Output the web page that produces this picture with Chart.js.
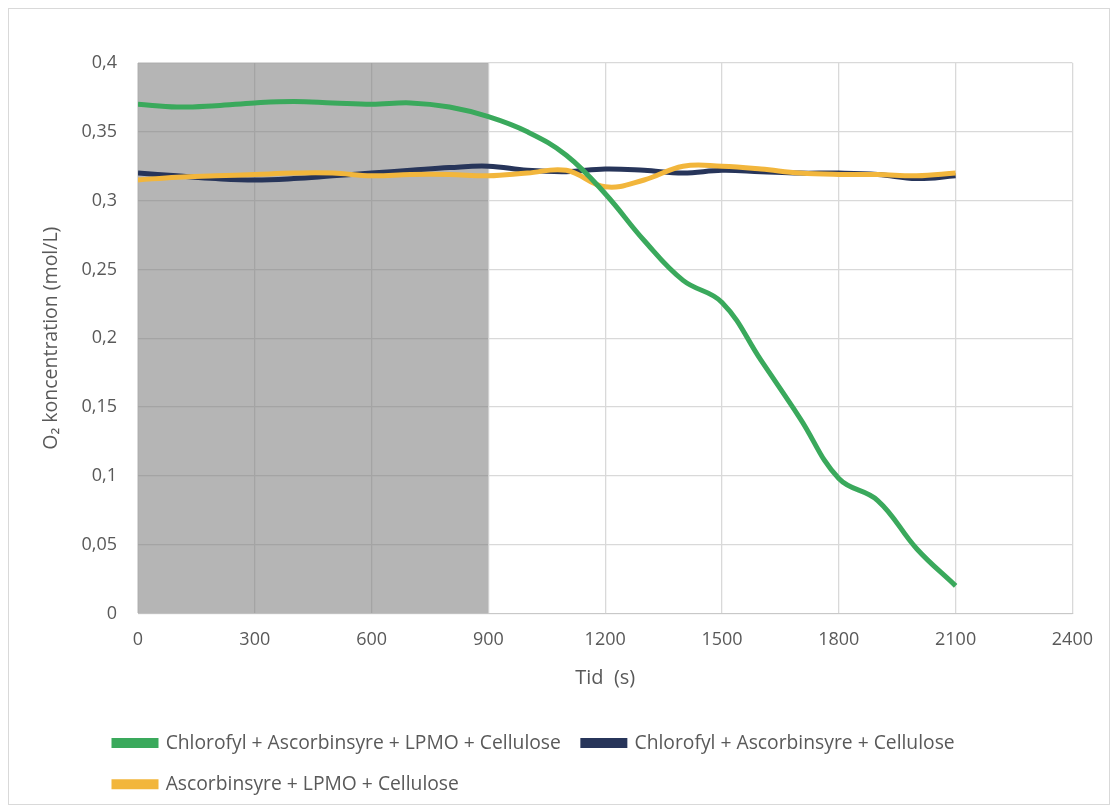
<!DOCTYPE html>
<html>
<head>
<meta charset="utf-8">
<script src="https://cdn.jsdelivr.net/npm/chart.js@4"></script>
<style>
  html, body { margin: 0; padding: 0; background: #fff; }
  #wrap {
    position: absolute; left: 8px; top: 8px;
    width: 1100px; height: 795px;
    border: 1px solid #d9d9d9;
  }
</style>
</head>
<body>
<div id="wrap"><canvas id="o2Chart"></canvas></div>
<script>
// Time axis (s) and measured O2 concentration (mol/L)
const times = [0, 100, 200, 300, 400, 500, 600, 700, 800, 900, 1000, 1100,
  1200, 1300, 1400, 1500, 1600, 1700, 1800, 1900, 2000, 2100];
const chlLpmo = [0.370, 0.368, 0.369, 0.371, 0.372, 0.371, 0.370, 0.371, 0.368, 0.361, 0.350, 0.333,
  0.305, 0.271, 0.242, 0.226, 0.184, 0.142, 0.098, 0.082, 0.047, 0.020];
const chlOnly = [0.320, 0.318, 0.316, 0.315, 0.316, 0.318, 0.320, 0.322, 0.324, 0.325, 0.322, 0.321,
  0.323, 0.322, 0.320, 0.322, 0.321, 0.320, 0.320, 0.319, 0.316, 0.318];
const ascLpmo = [0.315, 0.317, 0.318, 0.319, 0.320, 0.320, 0.318, 0.319, 0.319, 0.318, 0.320, 0.322,
  0.310, 0.315, 0.325, 0.325, 0.323, 0.320, 0.319, 0.319, 0.318, 0.320];
const seriesNames = [
  'Chlorofyl + Ascorbinsyre + LPMO + Cellulose',
  'Chlorofyl + Ascorbinsyre + Cellulose',
  'Ascorbinsyre + LPMO + Cellulose'
];
// dark (shaded) period
const shadeTimes = [0, 900];
const shadeLevel = [0.4, 0.4];

function pts(xs, ys) {
  return xs.map((x, i) => ({ x: x, y: ys[i] }));
}

// move legend towards the plot's left edge
const legendShift = {
  id: 'legendShift',
  afterLayout(chart) {
    if (chart.legend) chart.legend.left += 52;
  }
};

document.addEventListener('DOMContentLoaded', function() {
  const ctx = document.getElementById('o2Chart');
  const lineOpts = { borderWidth: 5, pointRadius: 0, tension: 0.4, fill: false };
  const txt = '#595959';

  new Chart(ctx, {
    type: 'line',
    data: {
      datasets: [
        Object.assign({ label: seriesNames[0], data: pts(times, chlLpmo),
          borderColor: '#3aa95c', backgroundColor: '#3aa95c', order: 0 }, lineOpts),
        Object.assign({ label: seriesNames[1], data: pts(times, chlOnly),
          borderColor: '#27355a', backgroundColor: '#27355a', order: 2 }, lineOpts),
        Object.assign({ label: seriesNames[2], data: pts(times, ascLpmo),
          borderColor: '#f2b63c', backgroundColor: '#f2b63c', order: 1 }, lineOpts),
        {
          label: 'shade',
          data: pts(shadeTimes, shadeLevel),
          borderWidth: 0, pointRadius: 0, tension: 0,
          fill: 'origin',
          backgroundColor: 'rgba(120,120,120,0.55)',
          order: 5
        }
      ]
    },
    options: {
      responsive: true,
      maintainAspectRatio: false,
      animation: false,
      layout: { padding: { top: 54, right: 16, left: 31, bottom: 0 } },
      plugins: {
        tooltip: { enabled: false },
        legend: {
          position: 'bottom',
          align: 'start',
          labels: {
            filter: item => item.text !== 'shade',
            sort: (a, b) => a.datasetIndex - b.datasetIndex,
            boxWidth: 42,
            boxHeight: 5,
            padding: 22,
            color: txt,
            font: { family: "'Open Sans', sans-serif", size: 19.3 }
          }
        }
      },
      scales: {
        x: {
          type: 'linear',
          min: 0, max: 2400,
          afterFit: s => { s.height = 98; },
          ticks: { stepSize: 300, color: txt, padding: 16,
            font: { family: "'Open Sans', sans-serif", size: 18 },
            callback: v => String(v) },
          grid: { color: '#d9d9d9', lineWidth: 1.3, drawTicks: false },
          border: { color: '#c8c8c8' },
          title: { display: true, text: 'Tid  (s)', color: txt,
            font: { family: "'Open Sans', sans-serif", size: 20 }, padding: { top: 0, bottom: 21 } }
        },
        y: {
          min: 0, max: 0.4,
          afterFit: s => { s.width = 98; },
          ticks: {
            stepSize: 0.05, color: txt, padding: 21,
            font: { family: "'Open Sans', sans-serif", size: 18 },
            callback: v => String(+v.toFixed(2)).replace('.', ',')
          },
          grid: { color: '#d9d9d9', lineWidth: 1.3, drawTicks: false },
          border: { display: false },
          title: { display: true, text: 'O₂ koncentration (mol/L)', color: txt,
            font: { family: "'Open Sans', sans-serif", size: 19.5 }, padding: { top: 0, bottom: 0 } }
        }
      }
    },
    plugins: [legendShift]
  });
});
</script>
</body>
</html>
